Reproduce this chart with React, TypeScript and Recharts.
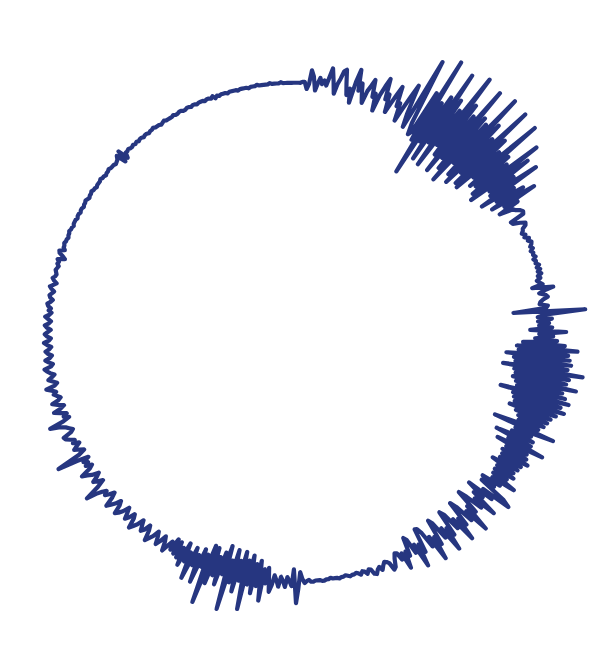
import { PolarAngleAxis, PolarRadiusAxis, Radar, RadarChart } from "recharts"

// radius readings, one every half degree, clockwise from the top
const sector000 = [
  250, 250, 250, 251, 251, 244, 249, 263, 257, 243, 250, 256, 250, 254, 249, 258, 267, 255, 242, 252,
  258, 266, 268, 254, 243, 250, 236, 258, 271, 250, 258, 247, 239, 252, 258, 265, 248, 252, 235, 252,
  262, 271, 250, 256, 238, 248, 258, 268, 248, 252, 234, 248, 262, 276, 245, 232, 262, 308, 240, 228,
]
const sector030 = [
  232, 278, 225, 317, 190, 272, 228, 282, 210, 312, 232, 285, 208, 276, 235, 319, 226, 290, 209, 280,
  228, 315, 218, 286, 206, 282, 232, 319, 220, 290, 213, 276, 230, 317, 219, 284, 217, 272, 236, 315,
  228, 276, 232, 270, 225, 304, 220, 289, 240, 268, 238, 292, 225, 262, 240, 270, 232, 280, 244, 258,
]
const sector060 = [
  236, 250, 252, 256, 258, 257, 242, 243, 250, 255, 254, 250, 249, 247, 250, 248, 252, 250, 253, 252,
  250, 252, 249, 251, 250, 252, 249, 251, 250, 253, 250, 253, 250, 253, 249, 251, 247, 249, 252, 241,
  262, 252, 247, 253, 255, 250, 247, 246, 254, 252, 219, 291, 250, 243, 257, 243, 254, 244, 257, 235,
]
const sector090 = [
  271, 244, 258, 240, 262, 228, 270, 222, 283, 224, 274, 212, 276, 220, 278, 222, 275, 210, 291, 222,
  278, 224, 276, 222, 287, 226, 274, 228, 278, 212, 283, 226, 276, 228, 281, 230, 274, 226, 270, 234,
  268, 238, 266, 240, 262, 216, 280, 240, 258, 238, 262, 223, 262, 238, 277, 228, 262, 240, 264, 238,
]
const sector120 = [
  268, 240, 263, 240, 262, 234, 260, 242, 263, 242, 258, 243, 270, 245, 256, 236, 252, 238, 268, 276,
  245, 258, 230, 250, 240, 269, 245, 256, 238, 229, 255, 245, 274, 248, 258, 238, 231, 258, 248, 272,
  245, 255, 236, 231, 258, 248, 272, 245, 255, 236, 231, 258, 248, 272, 245, 255, 238, 232, 231, 256,
]
const sector150 = [
  246, 269, 244, 252, 236, 233, 252, 246, 263, 246, 252, 244, 243, 248, 256, 258, 250, 248, 247, 250,
  254, 250, 252, 256, 255, 250, 249, 253, 250, 249, 252, 250, 249, 250, 250, 251, 250, 249, 250, 250,
  251, 250, 250, 250, 249, 250, 250, 251, 251, 250, 250, 250, 251, 251, 249, 250, 252, 248, 241, 258,
]
const sector180 = [
  272, 238, 255, 250, 246, 256, 250, 246, 256, 250, 245, 255, 262, 238, 254, 240, 272, 232, 258, 236,
  266, 228, 258, 234, 284, 226, 256, 236, 268, 226, 260, 238, 289, 224, 254, 232, 266, 238, 258, 230,
  268, 229, 290, 240, 254, 236, 272, 244, 256, 238, 272, 245, 256, 237, 262, 244, 256, 240, 254, 239,
]
const sector210 = [
  252, 244, 250, 257, 248, 243, 250, 255, 248, 243, 250, 254, 258, 248, 243, 250, 253, 248, 243, 250,
  254, 258, 248, 244, 250, 254, 248, 243, 250, 254, 257, 248, 244, 250, 254, 258, 248, 243, 248, 252,
  248, 252, 258, 268, 252, 244, 249, 253, 247, 243, 250, 254, 259, 248, 244, 250, 246, 250, 243, 255,
]
const sector240 = [
  275, 250, 243, 247, 252, 248, 244, 250, 247, 251, 255, 256, 247, 244, 247, 250, 255, 265, 250, 243,
  248, 244, 250, 256, 248, 244, 250, 255, 248, 245, 248, 251, 248, 252, 257, 248, 245, 249, 253, 249,
  246, 250, 253, 255, 248, 246, 250, 253, 248, 246, 250, 252, 248, 246, 250, 253, 248, 246, 250, 252,
]
const sector270 = [
  249, 246, 250, 252, 248, 246, 249, 252, 248, 246, 249, 247, 250, 251, 248, 246, 249, 250, 248, 246,
  249, 251, 248, 245, 248, 250, 248, 247, 248, 249, 248, 247, 249, 248, 250, 243, 246, 250, 251, 246,
  248, 248, 249, 248, 248, 247, 248, 248, 249, 248, 248, 247, 248, 248, 248, 247, 248, 248, 247, 248,
]
const sector300 = [
  248, 247, 248, 248, 249, 248, 247, 248, 248, 249, 248, 248, 247, 248, 248, 248, 249, 248, 248, 247,
  248, 248, 249, 248, 248, 248, 247, 248, 249, 252, 242, 254, 243, 248, 248, 249, 248, 248, 249, 248,
  249, 248, 249, 249, 248, 249, 249, 248, 249, 249, 250, 249, 249, 249, 248, 249, 250, 249, 249, 249,
]
const sector330 = [
  249, 250, 249, 249, 250, 250, 249, 249, 250, 250, 249, 250, 250, 249, 250, 250, 250, 249, 250, 250,
  249, 251, 248, 250, 249, 250, 250, 250, 249, 250, 250, 250, 250, 249, 250, 250, 250, 250, 249, 250,
  250, 250, 251, 250, 250, 250, 250, 250, 251, 250, 250, 250, 250, 251, 250, 250, 250, 250, 250, 250,
]

const radii = [
  ...sector000, ...sector030, ...sector060, ...sector090,
  ...sector120, ...sector150, ...sector180, ...sector210,
  ...sector240, ...sector270, ...sector300, ...sector330,
]

const data = radii.map((r, i) => ({ step: i, r }))

export default function App() {
  return (
    <RadarChart width={600} height={640} data={data} cx={288} cy={324} outerRadius={329}>
      <PolarAngleAxis dataKey="step" tick={false} axisLine={false} tickLine={false} />
      <PolarRadiusAxis domain={[0, 330]} tick={false} axisLine={false} tickLine={false} />
      <Radar
        dataKey="r"
        stroke="#263680"
        strokeWidth={4.2}
        strokeLinejoin="round"
        fill="none"
        dot={false}
        isAnimationActive={false}
      />
    </RadarChart>
  )
}
